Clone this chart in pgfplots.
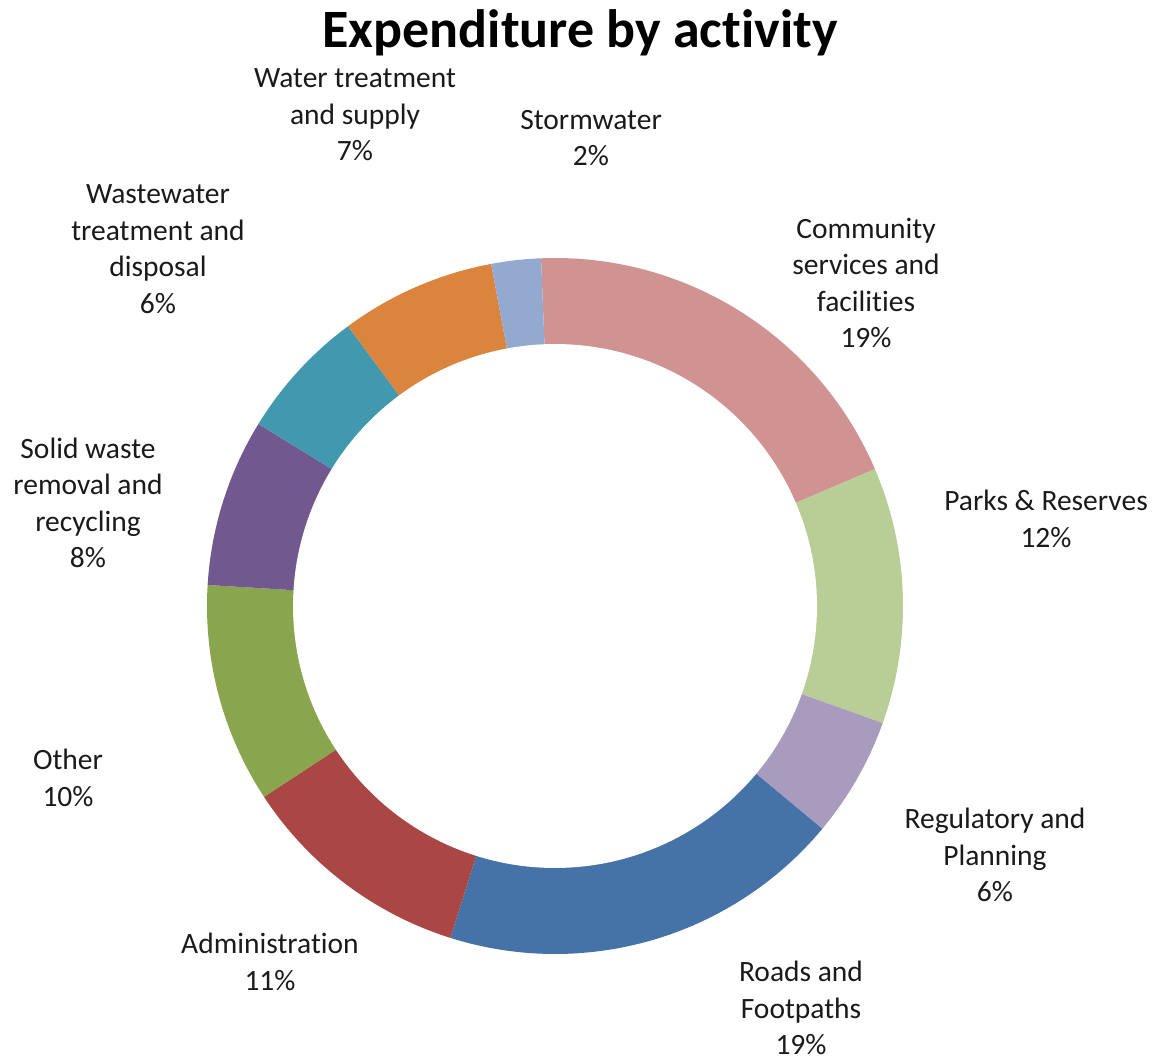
\documentclass[border=0pt]{standalone}
\usepackage{pgfplots}
\pgfplotsset{compat=1.18}
\usepackage{pgfplotstable}
\usepackage{fontspec}
\setmainfont{Carlito}[Ligatures=NoCommon]
\definecolor{c1}{HTML}{D19392}
\definecolor{c2}{HTML}{B9CD96}
\definecolor{c3}{HTML}{A99BBD}
\definecolor{c4}{HTML}{4572A7}
\definecolor{c5}{HTML}{AA4643}
\definecolor{c6}{HTML}{89A54E}
\definecolor{c7}{HTML}{71588F}
\definecolor{c8}{HTML}{4198AF}
\definecolor{c9}{HTML}{DB843D}
\definecolor{c10}{HTML}{93A9CF}
\definecolor{lbl}{HTML}{1A1A1A}
% share of each activity (percent), clockwise from the top
\pgfplotstableread{
val col
19.2 c1
11.9 c2
5.6 c3
18.8 c4
10.9 c5
10.2 c6
7.8 c7
6.1 c8
7.2 c9
2.3 c10
}\slices
\begin{document}
\begin{tikzpicture}
\begin{axis}[
  scale only axis, width=577.5bp, height=529.5bp,
  xmin=0, xmax=1155, ymin=0, ymax=1059,
  hide axis, clip=false,
]
\pgfmathsetmacro\cur{92.3}
\pgfplotsforeachungrouped \i in {0,...,9}{%
  \pgfplotstablegetelem{\i}{val}\of\slices \let\v\pgfplotsretval
  \pgfplotstablegetelem{\i}{col}\of\slices \let\c\pgfplotsretval
  \pgfmathsetmacro\nxt{\cur-3.6*\v}%
  \edef\temp{\noexpand\addplot[fill=\c, draw=none, domain=\nxt:\cur, samples=80] ({555+348*cos(x)},{453+348*sin(x)}) -- (axis cs:555,453) -- cycle;}%
  \temp
  \global\let\cur\nxt
}
\addplot[fill=white, draw=none, domain=0:360, samples=200] ({555+262*cos(x)},{453+262*sin(x)}) -- cycle;

\tikzset{lab/.style={align=center, text=lbl, inner sep=0pt, font=\fontsize{14.75bp}{18.25bp}\selectfont}}
\node[lab] at (axis cs:355,1059-115) {Water treatment\\and supply\\7\%};
\node[lab] at (axis cs:591,1059-138) {Stormwater\\2\%};
\node[lab] at (axis cs:158,1059-249) {Wastewater\\treatment and\\disposal\\6\%};
\node[lab] at (axis cs:866,1059-283) {Community\\services and\\facilities\\19\%};
\node[lab] at (axis cs:88,1059-503) {Solid waste\\removal and\\recycling\\8\%};
\node[lab] at (axis cs:1046,1059-519) {Parks \& Reserves\\12\%};
\node[lab] at (axis cs:68,1059-778) {Other\\10\%};
\node[lab] at (axis cs:995,1059-855) {Regulatory and\\Planning\\6\%};
\node[lab] at (axis cs:270,1059-962) {Administration\\11\%};
\node[lab] at (axis cs:801,1059-1008) {Roads and\\Footpaths\\19\%};
\node[text=black, inner sep=0pt, font=\fontsize{27bp}{32bp}\selectfont\bfseries] at (axis cs:580,1059-33) {Expenditure by activity};
\coordinate (LL) at (axis cs:0,0);
\coordinate (UR) at (axis cs:1155,1059);
\end{axis}
\pgfresetboundingbox
\path (LL) rectangle (UR);
\end{tikzpicture}
\end{document}
